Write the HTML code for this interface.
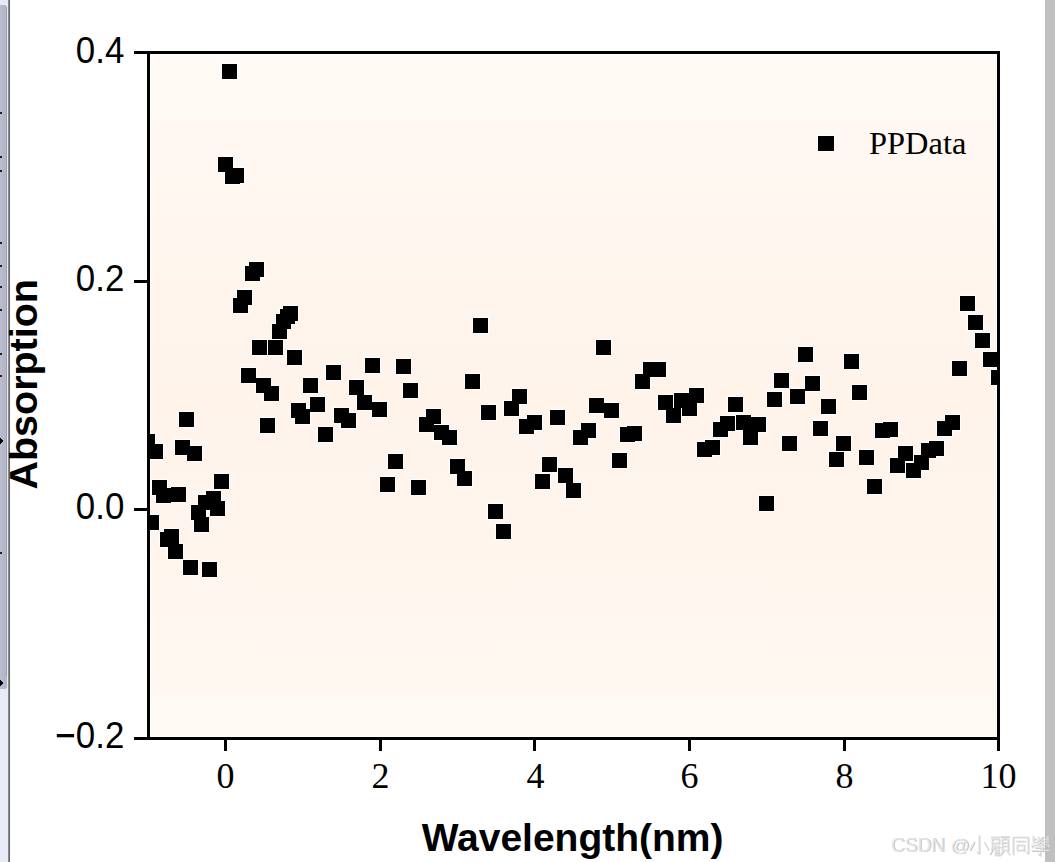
<!DOCTYPE html>
<html><head><meta charset="utf-8"><style>
html,body{margin:0;padding:0;background:#fff;}
body{width:1055px;height:862px;overflow:hidden;position:relative;}
svg{position:absolute;left:0;top:0;}
</style></head><body>
<svg width="1055" height="862" viewBox="0 0 1055 862" shape-rendering="crispEdges">
<defs>
<linearGradient id="bg" x1="0" y1="0" x2="0" y2="1">
<stop offset="0" stop-color="#fffaf5"/>
<stop offset="0.35" stop-color="#fff5ed"/>
<stop offset="0.5" stop-color="#fff3ea"/>
<stop offset="0.72" stop-color="#fff5ed"/>
<stop offset="0.85" stop-color="#fff7f0"/>
<stop offset="1" stop-color="#fffaf4"/>
</linearGradient>
<linearGradient id="strip" x1="0" y1="0" x2="1" y2="0">
<stop offset="0" stop-color="#bcbed0"/>
<stop offset="1" stop-color="#a2a4ba"/>
</linearGradient>
<clipPath id="clip"><rect x="150" y="54" width="847" height="683"/></clipPath>
</defs>
<rect x="0" y="0" width="1055" height="862" fill="#fff"/>
<!-- left strip -->
<rect x="0" y="0" width="8" height="862" fill="#e8eaf8"/>
<path d="M0 5 H5 L7 7 V687 L5 689 H0 Z" fill="#b6b8ca"/>
<rect x="0" y="5" width="2" height="684" fill="#babccd"/>
<rect x="6" y="7" width="1" height="669" fill="#9c9eb4"/>
<rect x="8" y="0" width="1" height="862" fill="#8a8a8a"/>
<rect x="9" y="0" width="1" height="862" fill="#666"/>
<rect x="0" y="112" width="2" height="2" fill="#202020"/>
<rect x="0" y="156" width="2" height="2" fill="#202020"/>
<rect x="0" y="170" width="2" height="2" fill="#202020"/>
<rect x="0" y="242" width="2" height="2" fill="#202020"/>
<rect x="0" y="265" width="2" height="2" fill="#202020"/>
<rect x="0" y="286" width="2" height="2" fill="#202020"/>
<rect x="0" y="309" width="2" height="2" fill="#202020"/>
<rect x="0" y="353" width="2" height="2" fill="#202020"/>
<rect x="0" y="375" width="2" height="2" fill="#202020"/>
<rect x="0" y="552" width="2" height="2" fill="#202020"/>
<path d="M0 438 L3 441 L0 444 Z" fill="#000"/><path d="M0 680 L3 683 L0 686 Z" fill="#000"/>
<!-- right strip -->
<rect x="1045" y="0" width="10" height="862" fill="#c0c0c0"/>
<!-- plot fill -->
<rect x="151" y="55" width="845" height="681" fill="url(#bg)"/>
<!-- markers -->
<g clip-path="url(#clip)">
<g fill="#fff">
<rect x="139" y="433" width="17" height="17"/>
<rect x="143" y="514" width="17" height="17"/>
<rect x="147" y="443" width="17" height="17"/>
<rect x="151" y="479" width="17" height="17"/>
<rect x="155" y="487" width="17" height="17"/>
<rect x="159" y="531" width="17" height="17"/>
<rect x="163" y="528" width="17" height="17"/>
<rect x="167" y="543" width="17" height="17"/>
<rect x="170" y="486" width="17" height="17"/>
<rect x="174" y="439" width="17" height="17"/>
<rect x="178" y="411" width="17" height="17"/>
<rect x="182" y="559" width="17" height="17"/>
<rect x="186" y="445" width="17" height="17"/>
<rect x="190" y="504" width="17" height="17"/>
<rect x="193" y="516" width="17" height="17"/>
<rect x="197" y="494" width="17" height="17"/>
<rect x="201" y="561" width="17" height="17"/>
<rect x="205" y="490" width="17" height="17"/>
<rect x="209" y="500" width="17" height="17"/>
<rect x="213" y="473" width="17" height="17"/>
<rect x="217" y="156" width="17" height="17"/>
<rect x="221" y="63" width="17" height="17"/>
<rect x="224" y="168" width="17" height="17"/>
<rect x="228" y="167" width="17" height="17"/>
<rect x="232" y="297" width="17" height="17"/>
<rect x="236" y="289" width="17" height="17"/>
<rect x="240" y="367" width="17" height="17"/>
<rect x="244" y="265" width="17" height="17"/>
<rect x="248" y="261" width="17" height="17"/>
<rect x="251" y="339" width="17" height="17"/>
<rect x="255" y="377" width="17" height="17"/>
<rect x="259" y="417" width="17" height="17"/>
<rect x="263" y="385" width="17" height="17"/>
<rect x="267" y="339" width="17" height="17"/>
<rect x="271" y="323" width="17" height="17"/>
<rect x="275" y="313" width="17" height="17"/>
<rect x="279" y="308" width="17" height="17"/>
<rect x="282" y="305" width="17" height="17"/>
<rect x="286" y="349" width="17" height="17"/>
<rect x="290" y="402" width="17" height="17"/>
<rect x="294" y="408" width="17" height="17"/>
<rect x="302" y="377" width="17" height="17"/>
<rect x="309" y="396" width="17" height="17"/>
<rect x="317" y="426" width="17" height="17"/>
<rect x="325" y="364" width="17" height="17"/>
<rect x="333" y="407" width="17" height="17"/>
<rect x="340" y="412" width="17" height="17"/>
<rect x="348" y="379" width="17" height="17"/>
<rect x="356" y="394" width="17" height="17"/>
<rect x="364" y="357" width="17" height="17"/>
<rect x="371" y="401" width="17" height="17"/>
<rect x="379" y="476" width="17" height="17"/>
<rect x="387" y="453" width="17" height="17"/>
<rect x="395" y="358" width="17" height="17"/>
<rect x="402" y="382" width="17" height="17"/>
<rect x="410" y="479" width="17" height="17"/>
<rect x="418" y="416" width="17" height="17"/>
<rect x="425" y="408" width="17" height="17"/>
<rect x="433" y="424" width="17" height="17"/>
<rect x="441" y="429" width="17" height="17"/>
<rect x="449" y="458" width="17" height="17"/>
<rect x="456" y="470" width="17" height="17"/>
<rect x="464" y="373" width="17" height="17"/>
<rect x="472" y="317" width="17" height="17"/>
<rect x="480" y="404" width="17" height="17"/>
<rect x="487" y="503" width="17" height="17"/>
<rect x="495" y="523" width="17" height="17"/>
<rect x="503" y="400" width="17" height="17"/>
<rect x="511" y="388" width="17" height="17"/>
<rect x="518" y="418" width="17" height="17"/>
<rect x="526" y="414" width="17" height="17"/>
<rect x="534" y="473" width="17" height="17"/>
<rect x="541" y="456" width="17" height="17"/>
<rect x="549" y="409" width="17" height="17"/>
<rect x="557" y="467" width="17" height="17"/>
<rect x="565" y="482" width="17" height="17"/>
<rect x="572" y="429" width="17" height="17"/>
<rect x="580" y="422" width="17" height="17"/>
<rect x="588" y="397" width="17" height="17"/>
<rect x="595" y="339" width="17" height="17"/>
<rect x="603" y="402" width="17" height="17"/>
<rect x="611" y="452" width="17" height="17"/>
<rect x="619" y="426" width="17" height="17"/>
<rect x="626" y="425" width="17" height="17"/>
<rect x="634" y="373" width="17" height="17"/>
<rect x="642" y="361" width="17" height="17"/>
<rect x="650" y="361" width="17" height="17"/>
<rect x="657" y="394" width="17" height="17"/>
<rect x="665" y="407" width="17" height="17"/>
<rect x="673" y="392" width="17" height="17"/>
<rect x="681" y="400" width="17" height="17"/>
<rect x="688" y="387" width="17" height="17"/>
<rect x="696" y="441" width="17" height="17"/>
<rect x="704" y="439" width="17" height="17"/>
<rect x="712" y="421" width="17" height="17"/>
<rect x="719" y="415" width="17" height="17"/>
<rect x="727" y="396" width="17" height="17"/>
<rect x="735" y="414" width="17" height="17"/>
<rect x="742" y="429" width="17" height="17"/>
<rect x="750" y="416" width="17" height="17"/>
<rect x="758" y="495" width="17" height="17"/>
<rect x="766" y="391" width="17" height="17"/>
<rect x="773" y="372" width="17" height="17"/>
<rect x="781" y="435" width="17" height="17"/>
<rect x="789" y="388" width="17" height="17"/>
<rect x="797" y="346" width="17" height="17"/>
<rect x="804" y="375" width="17" height="17"/>
<rect x="812" y="420" width="17" height="17"/>
<rect x="820" y="398" width="17" height="17"/>
<rect x="828" y="451" width="17" height="17"/>
<rect x="835" y="435" width="17" height="17"/>
<rect x="843" y="353" width="17" height="17"/>
<rect x="851" y="384" width="17" height="17"/>
<rect x="858" y="449" width="17" height="17"/>
<rect x="866" y="478" width="17" height="17"/>
<rect x="874" y="422" width="17" height="17"/>
<rect x="882" y="421" width="17" height="17"/>
<rect x="889" y="457" width="17" height="17"/>
<rect x="897" y="445" width="17" height="17"/>
<rect x="905" y="462" width="17" height="17"/>
<rect x="913" y="454" width="17" height="17"/>
<rect x="920" y="442" width="17" height="17"/>
<rect x="928" y="440" width="17" height="17"/>
<rect x="936" y="420" width="17" height="17"/>
<rect x="944" y="414" width="17" height="17"/>
<rect x="951" y="360" width="17" height="17"/>
<rect x="959" y="295" width="17" height="17"/>
<rect x="967" y="314" width="17" height="17"/>
<rect x="974" y="332" width="17" height="17"/>
<rect x="982" y="351" width="17" height="17"/>
<rect x="990" y="369" width="17" height="17"/>
</g>
<g fill="#000">
<rect x="140" y="434" width="15" height="15"/>
<rect x="144" y="515" width="15" height="15"/>
<rect x="148" y="444" width="15" height="15"/>
<rect x="152" y="480" width="15" height="15"/>
<rect x="156" y="488" width="15" height="15"/>
<rect x="160" y="532" width="15" height="15"/>
<rect x="164" y="529" width="15" height="15"/>
<rect x="168" y="544" width="15" height="15"/>
<rect x="171" y="487" width="15" height="15"/>
<rect x="175" y="440" width="15" height="15"/>
<rect x="179" y="412" width="15" height="15"/>
<rect x="183" y="560" width="15" height="15"/>
<rect x="187" y="446" width="15" height="15"/>
<rect x="191" y="505" width="15" height="15"/>
<rect x="194" y="517" width="15" height="15"/>
<rect x="198" y="495" width="15" height="15"/>
<rect x="202" y="562" width="15" height="15"/>
<rect x="206" y="491" width="15" height="15"/>
<rect x="210" y="501" width="15" height="15"/>
<rect x="214" y="474" width="15" height="15"/>
<rect x="218" y="157" width="15" height="15"/>
<rect x="222" y="64" width="15" height="15"/>
<rect x="225" y="169" width="15" height="15"/>
<rect x="229" y="168" width="15" height="15"/>
<rect x="233" y="298" width="15" height="15"/>
<rect x="237" y="290" width="15" height="15"/>
<rect x="241" y="368" width="15" height="15"/>
<rect x="245" y="266" width="15" height="15"/>
<rect x="249" y="262" width="15" height="15"/>
<rect x="252" y="340" width="15" height="15"/>
<rect x="256" y="378" width="15" height="15"/>
<rect x="260" y="418" width="15" height="15"/>
<rect x="264" y="386" width="15" height="15"/>
<rect x="268" y="340" width="15" height="15"/>
<rect x="272" y="324" width="15" height="15"/>
<rect x="276" y="314" width="15" height="15"/>
<rect x="280" y="309" width="15" height="15"/>
<rect x="283" y="306" width="15" height="15"/>
<rect x="287" y="350" width="15" height="15"/>
<rect x="291" y="403" width="15" height="15"/>
<rect x="295" y="409" width="15" height="15"/>
<rect x="303" y="378" width="15" height="15"/>
<rect x="310" y="397" width="15" height="15"/>
<rect x="318" y="427" width="15" height="15"/>
<rect x="326" y="365" width="15" height="15"/>
<rect x="334" y="408" width="15" height="15"/>
<rect x="341" y="413" width="15" height="15"/>
<rect x="349" y="380" width="15" height="15"/>
<rect x="357" y="395" width="15" height="15"/>
<rect x="365" y="358" width="15" height="15"/>
<rect x="372" y="402" width="15" height="15"/>
<rect x="380" y="477" width="15" height="15"/>
<rect x="388" y="454" width="15" height="15"/>
<rect x="396" y="359" width="15" height="15"/>
<rect x="403" y="383" width="15" height="15"/>
<rect x="411" y="480" width="15" height="15"/>
<rect x="419" y="417" width="15" height="15"/>
<rect x="426" y="409" width="15" height="15"/>
<rect x="434" y="425" width="15" height="15"/>
<rect x="442" y="430" width="15" height="15"/>
<rect x="450" y="459" width="15" height="15"/>
<rect x="457" y="471" width="15" height="15"/>
<rect x="465" y="374" width="15" height="15"/>
<rect x="473" y="318" width="15" height="15"/>
<rect x="481" y="405" width="15" height="15"/>
<rect x="488" y="504" width="15" height="15"/>
<rect x="496" y="524" width="15" height="15"/>
<rect x="504" y="401" width="15" height="15"/>
<rect x="512" y="389" width="15" height="15"/>
<rect x="519" y="419" width="15" height="15"/>
<rect x="527" y="415" width="15" height="15"/>
<rect x="535" y="474" width="15" height="15"/>
<rect x="542" y="457" width="15" height="15"/>
<rect x="550" y="410" width="15" height="15"/>
<rect x="558" y="468" width="15" height="15"/>
<rect x="566" y="483" width="15" height="15"/>
<rect x="573" y="430" width="15" height="15"/>
<rect x="581" y="423" width="15" height="15"/>
<rect x="589" y="398" width="15" height="15"/>
<rect x="596" y="340" width="15" height="15"/>
<rect x="604" y="403" width="15" height="15"/>
<rect x="612" y="453" width="15" height="15"/>
<rect x="620" y="427" width="15" height="15"/>
<rect x="627" y="426" width="15" height="15"/>
<rect x="635" y="374" width="15" height="15"/>
<rect x="643" y="362" width="15" height="15"/>
<rect x="651" y="362" width="15" height="15"/>
<rect x="658" y="395" width="15" height="15"/>
<rect x="666" y="408" width="15" height="15"/>
<rect x="674" y="393" width="15" height="15"/>
<rect x="682" y="401" width="15" height="15"/>
<rect x="689" y="388" width="15" height="15"/>
<rect x="697" y="442" width="15" height="15"/>
<rect x="705" y="440" width="15" height="15"/>
<rect x="713" y="422" width="15" height="15"/>
<rect x="720" y="416" width="15" height="15"/>
<rect x="728" y="397" width="15" height="15"/>
<rect x="736" y="415" width="15" height="15"/>
<rect x="743" y="430" width="15" height="15"/>
<rect x="751" y="417" width="15" height="15"/>
<rect x="759" y="496" width="15" height="15"/>
<rect x="767" y="392" width="15" height="15"/>
<rect x="774" y="373" width="15" height="15"/>
<rect x="782" y="436" width="15" height="15"/>
<rect x="790" y="389" width="15" height="15"/>
<rect x="798" y="347" width="15" height="15"/>
<rect x="805" y="376" width="15" height="15"/>
<rect x="813" y="421" width="15" height="15"/>
<rect x="821" y="399" width="15" height="15"/>
<rect x="829" y="452" width="15" height="15"/>
<rect x="836" y="436" width="15" height="15"/>
<rect x="844" y="354" width="15" height="15"/>
<rect x="852" y="385" width="15" height="15"/>
<rect x="859" y="450" width="15" height="15"/>
<rect x="867" y="479" width="15" height="15"/>
<rect x="875" y="423" width="15" height="15"/>
<rect x="883" y="422" width="15" height="15"/>
<rect x="890" y="458" width="15" height="15"/>
<rect x="898" y="446" width="15" height="15"/>
<rect x="906" y="463" width="15" height="15"/>
<rect x="914" y="455" width="15" height="15"/>
<rect x="921" y="443" width="15" height="15"/>
<rect x="929" y="441" width="15" height="15"/>
<rect x="937" y="421" width="15" height="15"/>
<rect x="945" y="415" width="15" height="15"/>
<rect x="952" y="361" width="15" height="15"/>
<rect x="960" y="296" width="15" height="15"/>
<rect x="968" y="315" width="15" height="15"/>
<rect x="975" y="333" width="15" height="15"/>
<rect x="983" y="352" width="15" height="15"/>
<rect x="991" y="370" width="15" height="15"/>
</g>
</g>
<!-- axes -->
<g fill="#000">
<rect x="134" y="51" width="866" height="3"/>
<rect x="134" y="737" width="866" height="3"/>
<rect x="147" y="51" width="3" height="689"/>
<rect x="997" y="51" width="3" height="689"/>
<rect x="134" y="280" width="13" height="3"/>
<rect x="134" y="508" width="13" height="3"/>
<rect x="224" y="740" width="3" height="11"/>
<rect x="379" y="740" width="3" height="11"/>
<rect x="533" y="740" width="3" height="11"/>
<rect x="688" y="740" width="3" height="11"/>
<rect x="843" y="740" width="3" height="11"/>
<rect x="997" y="740" width="3" height="11"/>
</g>
<g font-family="'Liberation Sans', sans-serif" font-size="36" fill="#000">
<text x="75.8" y="62.8" textLength="48.5" lengthAdjust="spacingAndGlyphs">0.4</text>
<text x="75.8" y="291" textLength="48.5" lengthAdjust="spacingAndGlyphs">0.2</text>
<text x="75.8" y="519" textLength="48.5" lengthAdjust="spacingAndGlyphs">0.0</text>
<text x="75.8" y="748" textLength="48.5" lengthAdjust="spacingAndGlyphs">0.2</text>
<rect x="56.8" y="734" width="17.3" height="3.3" shape-rendering="auto"/>
</g>
<g font-family="'Liberation Serif', serif" font-size="36" fill="#000" text-anchor="middle">
<text x="225.5" y="788">0</text>
<text x="380.5" y="788">2</text>
<text x="535.5" y="788">4</text>
<text x="689.5" y="788">6</text>
<text x="844.5" y="788">8</text>
<text x="998.5" y="788">10</text>
</g>
<text x="572.6" y="850.7" font-family="'Liberation Sans', sans-serif" font-weight="bold" font-size="39" text-anchor="middle">Wavelength(nm)</text>
<text transform="translate(37.3,384.3) rotate(-90)" x="0" y="0" font-family="'Liberation Sans', sans-serif" font-weight="bold" font-size="39" text-anchor="middle" textLength="210.5" lengthAdjust="spacingAndGlyphs">Absorption</text>
<rect x="817" y="135" width="18" height="17" fill="#fff"/><rect x="818" y="136" width="16" height="15" fill="#000"/>
<text x="869" y="153.9" font-family="'Liberation Serif', serif" font-size="32" textLength="97.3" lengthAdjust="spacingAndGlyphs">PPData</text>
<g font-family="'Liberation Sans', sans-serif" font-size="19" shape-rendering="auto">
<g fill="#b0b0b0" transform="translate(0.7,0.7)"><text x="891" y="851.7" font-size="20" textLength="54" lengthAdjust="spacingAndGlyphs">CSDN</text><text x="950.5" y="851.7" font-size="19">@</text></g>
<g fill="#e6e6e6"><text x="891" y="851.7" font-size="20" textLength="54" lengthAdjust="spacingAndGlyphs">CSDN</text><text x="950.5" y="851.7" font-size="19">@</text></g>
</g>
<g fill="none" stroke-linecap="square" shape-rendering="auto">
<g stroke="#bcbcbc" stroke-width="1.1" transform="translate(0.8,0.8)"><path d="M979 835.5 V853 L977 852"/><path d="M974 842 L970 850"/><path d="M984 842 L988 849"/><path d="M991 837 H999"/><path d="M992 839 V846 Q992 852 990 854"/><path d="M992 839 H999 V843 H992"/><path d="M995 845 L993 849 M995 847 V855 M995 847 H1000 M995 850 H999 M995 852.5 H999 M995 855 H1000 M998 845 V855"/><path d="M1001 836.5 H1009 M1005 836.5 L1004 839 M1002 839 H1008 V850 H1002 Z M1002 842.5 H1008 M1002 846 H1008 M1003 851 L1001 854 M1007 851 L1009 854"/><path d="M1013 854 V837 H1028 V853 L1026 852"/><path d="M1016 841 H1025"/><path d="M1017 845 H1024 V850 H1017 Z"/><path d="M1033 836 V842 H1037 M1033 839 H1036 M1048 836 V842 H1044 M1048 839 H1045 M1038 837 L1043 841 M1043 837 L1038 841 M1038 840 L1043 844 M1043 840 L1038 844"/><path d="M1032 847 V845 H1049 V847"/><path d="M1035 847.5 H1045 L1040 850 V855 L1038 854"/><path d="M1032 850.5 H1049"/></g>
<g stroke="#e6e6e6" stroke-width="1.1"><path d="M979 835.5 V853 L977 852"/><path d="M974 842 L970 850"/><path d="M984 842 L988 849"/><path d="M991 837 H999"/><path d="M992 839 V846 Q992 852 990 854"/><path d="M992 839 H999 V843 H992"/><path d="M995 845 L993 849 M995 847 V855 M995 847 H1000 M995 850 H999 M995 852.5 H999 M995 855 H1000 M998 845 V855"/><path d="M1001 836.5 H1009 M1005 836.5 L1004 839 M1002 839 H1008 V850 H1002 Z M1002 842.5 H1008 M1002 846 H1008 M1003 851 L1001 854 M1007 851 L1009 854"/><path d="M1013 854 V837 H1028 V853 L1026 852"/><path d="M1016 841 H1025"/><path d="M1017 845 H1024 V850 H1017 Z"/><path d="M1033 836 V842 H1037 M1033 839 H1036 M1048 836 V842 H1044 M1048 839 H1045 M1038 837 L1043 841 M1043 837 L1038 841 M1038 840 L1043 844 M1043 840 L1038 844"/><path d="M1032 847 V845 H1049 V847"/><path d="M1035 847.5 H1045 L1040 850 V855 L1038 854"/><path d="M1032 850.5 H1049"/></g>
</g>
</svg>
</body></html>
